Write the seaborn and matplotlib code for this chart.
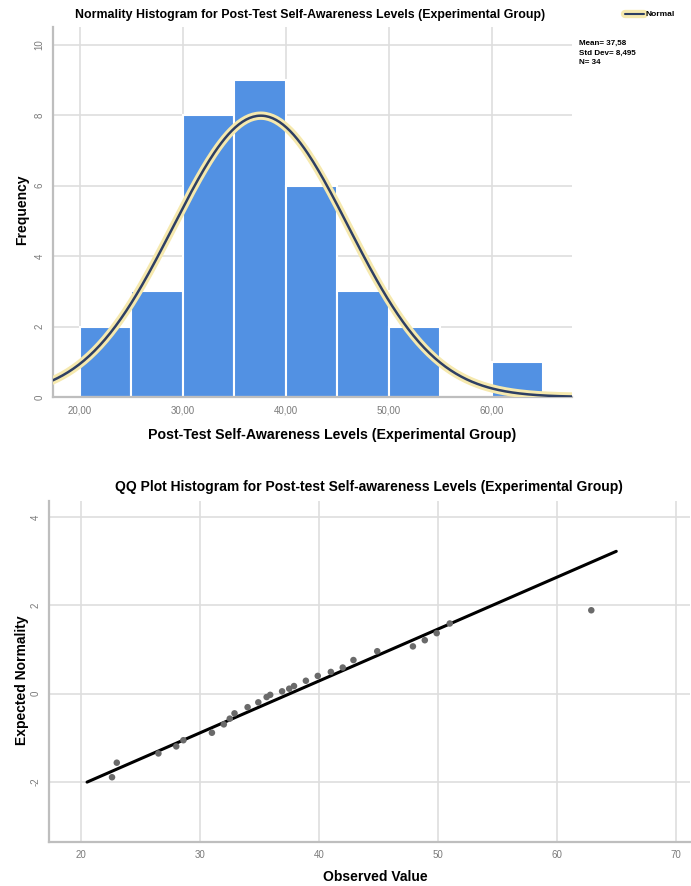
import numpy as np
import pandas as pd
import matplotlib
matplotlib.use("Agg")
import matplotlib.pyplot as plt
import matplotlib.patheffects as pe
from matplotlib.lines import Line2D
import seaborn as sns

# histogram (bin edges / counts)
bin_edges = [20, 25, 30, 35, 40, 45, 50, 55, 60, 65]
bin_counts = [2, 3, 8, 9, 6, 3, 2, 0, 1]
mean_val = 37.58
sd_val = 8.495
n_val = 34

# QQ plot points (observed value, expected normal)
qq_obs = [22.6, 23.0, 26.5, 28.0, 28.6, 31.0, 32.0, 32.5, 32.9, 34.0, 34.9, 35.6, 35.9,
          36.9, 37.5, 37.9, 38.9, 39.9, 41.0, 42.0, 42.9, 44.9, 47.9, 48.9, 49.9, 51.0, 62.9]
qq_exp = [-1.90, -1.57, -1.36, -1.20, -1.06, -0.89, -0.70, -0.57, -0.45, -0.31, -0.20, -0.08, -0.03,
          0.05, 0.11, 0.17, 0.29, 0.40, 0.49, 0.59, 0.76, 0.96, 1.07, 1.21, 1.37, 1.59, 1.89]
line_x = [20.5, 65.0]

sns.set_style("white")
plt.rcParams['font.family'] = ['Liberation Sans', 'DejaVu Sans']
plt.rcParams['axes.unicode_minus'] = False
plt.rcParams['text.color'] = 'black'

fig = plt.figure(figsize=(6.91, 8.86), dpi=100)
W, H = 691, 886

def box(l, t, r, b):
    return [l / W, 1 - b / H, (r - l) / W, (b - t) / H]

ax1 = fig.add_axes(box(53, 27, 572, 397))
ax2 = fig.add_axes(box(49, 501, 690, 842))

grid_c = '#DEDEDE'
spine_c = '#BEBEBE'
tick_c = '#7A7A7A'

# ---- top: histogram with normal curve
centers = [(a + b) / 2 for a, b in zip(bin_edges[:-1], bin_edges[1:])]
hist_df = pd.DataFrame({'x': centers, 'w': bin_counts})
sns.histplot(data=hist_df, x='x', weights='w', bins=bin_edges, ax=ax1,
             color='#5291E3', alpha=1, edgecolor='white', linewidth=1.5, zorder=2)

xs = np.linspace(16.8, 68.0, 300)
ys = n_val * 5 * np.exp(-0.5 * ((xs - mean_val) / sd_val) ** 2) / (sd_val * np.sqrt(2 * np.pi))
sns.lineplot(x=xs, y=ys, ax=ax1, color='#2E3F63', linewidth=1.8, zorder=4,
             path_effects=[pe.Stroke(linewidth=6, foreground='#F6E9AE'), pe.Normal()])

ax1.set_xlim(17.4, 67.8)
ax1.set_ylim(0, 10.5)
ax1.set_xticks([20, 30, 40, 50, 60])
ax1.set_xticklabels(['20,00', '30,00', '40,00', '50,00', '60,00'])
ax1.set_yticks([0, 2, 4, 6, 8, 10])
ax1.set_xlabel('')
ax1.set_ylabel('')

# ---- bottom: QQ plot
sns.lineplot(x=line_x, y=[(v - mean_val) / sd_val for v in line_x], ax=ax2,
             color='black', linewidth=2.2, zorder=3)
sns.scatterplot(x=qq_obs, y=qq_exp, ax=ax2, color='#6A6A6A', s=22,
                edgecolor='none', zorder=4)
ax2.set_xlim(17.3, 71.2)
ax2.set_ylim(-3.37, 4.37)
ax2.set_xticks([20, 30, 40, 50, 60, 70])
ax2.set_yticks([-2, 0, 2, 4])

for ax in (ax1, ax2):
    ax.set_axisbelow(True)
    ax.grid(True, color=grid_c, linewidth=1.2)
    for s in ('top', 'right'):
        ax.spines[s].set_visible(False)
    for s in ('left', 'bottom'):
        ax.spines[s].set_color(spine_c)
        ax.spines[s].set_linewidth(1.6)
    ax.tick_params(length=0, labelsize=7, labelcolor=tick_c, pad=6)
    for lab in ax.get_yticklabels():
        lab.set_rotation(90)
        lab.set_va('center')

# texts
fig.text(310 / W, 1 - 15 / H, 'Normality Histogram for Post-Test Self-Awareness Levels (Experimental Group)',
         ha='center', va='center', fontsize=8.9, fontweight='bold')
fig.text(332 / W, 1 - 435 / H, 'Post-Test Self-Awareness Levels (Experimental Group)',
         ha='center', va='center', fontsize=10.2, fontweight='bold')
fig.text(22 / W, 1 - 210 / H, 'Frequency', rotation=90, ha='center', va='center',
         fontsize=10, fontweight='bold')

fig.add_artist(Line2D([625 / W, 644 / W], [1 - 14 / H, 1 - 14 / H], color='#2E3F63', linewidth=1.5,
                      path_effects=[pe.Stroke(linewidth=6, foreground='#F6E9AE'), pe.Normal()]))
fig.text(646 / W, 1 - 14 / H, 'Normal', ha='left', va='center', fontsize=6, fontweight='bold')
fig.text(579 / W, 1 - 43 / H, 'Mean= 37,58', ha='left', va='center', fontsize=5.8, fontweight='bold')
fig.text(579 / W, 1 - 53 / H, 'Std Dev= 8,495', ha='left', va='center', fontsize=5.8, fontweight='bold')
fig.text(579 / W, 1 - 63 / H, 'N= 34', ha='left', va='center', fontsize=5.8, fontweight='bold')

fig.text(369 / W, 1 - 487 / H, 'QQ Plot Histogram for Post-test Self-awareness Levels (Experimental Group)',
         ha='center', va='center', fontsize=10, fontweight='bold')
fig.text(375 / W, 1 - 877 / H, 'Observed Value', ha='center', va='center',
         fontsize=10, fontweight='bold')
fig.text(22 / W, 1 - 680 / H, 'Expected Normality', rotation=90, ha='center', va='center',
         fontsize=10, fontweight='bold')

fig.savefig('out.png', dpi=100)
